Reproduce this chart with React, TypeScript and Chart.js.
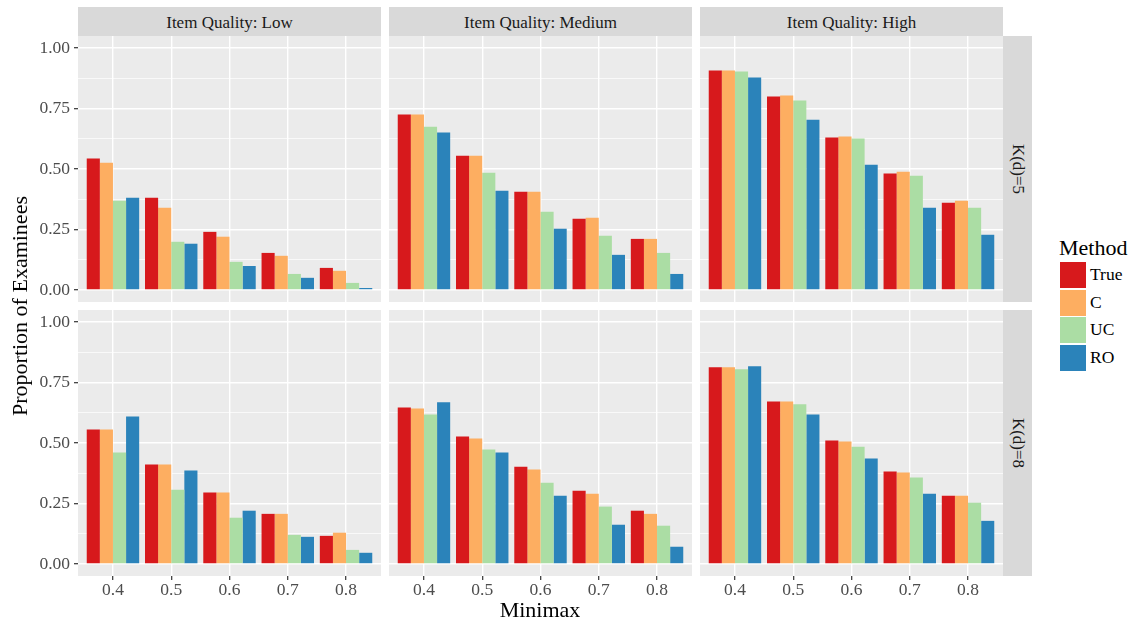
import React, { useEffect, useRef } from "react";
import { Chart, registerables } from "chart.js";

Chart.register(...registerables);
Chart.defaults.font.family = "'Liberation Serif', 'Times New Roman', serif";

// Categories and series
const minimaxLabels = ["0.4", "0.5", "0.6", "0.7", "0.8"];
const methods = ["True", "C", "UC", "RO"];
const methodColors = ["#D7191C", "#FDAE61", "#ABDDA4", "#2B83BA"];
const qualityLevels = ["Item Quality: Low", "Item Quality: Medium", "Item Quality: High"];
const kLevels = ["K(d)=5", "K(d)=8"];
const yMajorTicks = [0, 0.25, 0.5, 0.75, 1];
const yMinorTicks = [0.125, 0.375, 0.625, 0.875];

// Proportion of examinees, one row per method (True, C, UC, RO), columns = minimax
const k5Low = [
  [0.543, 0.381, 0.24, 0.153, 0.091],
  [0.526, 0.34, 0.22, 0.141, 0.079],
  [0.369, 0.199, 0.116, 0.066, 0.029],
  [0.381, 0.191, 0.099, 0.05, 0.008],
];
const k5Medium = [
  [0.725, 0.555, 0.406, 0.294, 0.211],
  [0.725, 0.555, 0.406, 0.298, 0.211],
  [0.675, 0.485, 0.323, 0.224, 0.153],
  [0.651, 0.41, 0.253, 0.145, 0.066],
];
const k5High = [
  [0.907, 0.8, 0.63, 0.481, 0.36],
  [0.907, 0.804, 0.634, 0.489, 0.369],
  [0.903, 0.783, 0.626, 0.472, 0.34],
  [0.878, 0.704, 0.518, 0.34, 0.228],
];
const k8Low = [
  [0.556, 0.411, 0.295, 0.207, 0.116],
  [0.556, 0.411, 0.295, 0.207, 0.129],
  [0.461, 0.307, 0.191, 0.12, 0.058],
  [0.61, 0.386, 0.22, 0.112, 0.046],
];
const k8Medium = [
  [0.647, 0.527, 0.402, 0.303, 0.22],
  [0.643, 0.519, 0.39, 0.29, 0.207],
  [0.618, 0.473, 0.336, 0.237, 0.158],
  [0.668, 0.461, 0.282, 0.162, 0.071],
];
const k8High = [
  [0.813, 0.672, 0.51, 0.382, 0.282],
  [0.813, 0.672, 0.506, 0.378, 0.282],
  [0.805, 0.66, 0.485, 0.357, 0.253],
  [0.817, 0.618, 0.436, 0.29, 0.178],
];
const panelRows = [
  [k5Low, k5Medium, k5High],
  [k8Low, k8Medium, k8High],
];

// Facet geometry
const PANEL_W = 303;
const PANEL_H = 266;
const colLeft = [78, 389, 700];
const rowTop = [36, 310];
const Y_AXIS_W = 78;
const X_AXIS_H = 30;
const STRIP = 29;

const TEXT_GREY = "#4D4D4D";
const isMajor = (v: number) => Math.abs(v * 4 - Math.round(v * 4)) < 1e-9;

const panelBackground = {
  id: "panelBackground",
  beforeDraw(chart: any) {
    const { ctx, chartArea } = chart;
    ctx.save();
    ctx.fillStyle = "#EBEBEB";
    ctx.fillRect(chartArea.left, chartArea.top, chartArea.right - chartArea.left, chartArea.bottom - chartArea.top);
    ctx.restore();
  },
};

function Panel({ values, left, top, showY, showX }: { values: number[][]; left: number; top: number; showY: boolean; showX: boolean }) {
  const ref = useRef<HTMLCanvasElement>(null);
  const yW = showY ? Y_AXIS_W : 0;
  const xH = showX ? X_AXIS_H : 0;
  const width = PANEL_W + yW;
  const height = PANEL_H + xH;

  useEffect(() => {
    if (!ref.current) return;
    const chart = new Chart(ref.current, {
      type: "bar",
      data: {
        datasets: methods.map((m, i) => ({
          label: m,
          data: values[i].map((v, j) => ({ x: j + 1, y: v })),
          backgroundColor: methodColors[i],
          borderWidth: 0,
          categoryPercentage: 0.9,
          barPercentage: 1,
        })),
      },
      options: {
        animation: false,
        responsive: false,
        events: [],
        layout: { padding: 0, autoPadding: false },
        plugins: { legend: { display: false }, tooltip: { enabled: false } },
        scales: {
          x: {
            type: "linear",
            min: 0.4,
            max: 5.6,
            offset: false,
            border: { display: false },
            grid: {
              offset: false,
              color: "#FFFFFF",
              lineWidth: 1.4,
              drawTicks: showX,
              tickLength: 4,
              tickColor: "#333333",
              tickWidth: 1.2,
            },
            ticks: {
              display: showX,
              autoSkip: false,
              maxRotation: 0,
              padding: 1,
              color: TEXT_GREY,
              font: { size: 17.5, lineHeight: 1.1 },
              callback: (v: any) => minimaxLabels[Math.round(v) - 1] ?? "",
            },
            afterBuildTicks: (s: any) => {
              s.ticks = minimaxLabels.map((_, i) => ({ value: i + 1 }));
            },
            afterFit: (s: any) => {
              s.height = xH;
              s.paddingLeft = 0;
              s.paddingRight = 0;
            },
          },
          y: {
            type: "linear",
            min: -0.05,
            max: 1.05,
            border: { display: false },
            grid: {
              color: "#FFFFFF",
              lineWidth: (c: any) => (isMajor(c.tick.value) ? 1.4 : 0.7),
              drawTicks: showY,
              tickLength: 4,
              tickColor: (c: any) => (isMajor(c.tick.value) ? "#333333" : "rgba(0,0,0,0)"),
              tickWidth: 1.2,
            },
            ticks: {
              display: showY,
              autoSkip: false,
              padding: 4,
              color: TEXT_GREY,
              font: { size: 17.5 },
              callback: (v: any) => (isMajor(v) ? Number(v).toFixed(2) : ""),
            },
            afterBuildTicks: (s: any) => {
              s.ticks = [...yMajorTicks, ...yMinorTicks].sort((a, b) => a - b).map((v) => ({ value: v }));
            },
            afterFit: (s: any) => {
              s.width = yW;
              s.paddingTop = 0;
              s.paddingBottom = 0;
            },
          },
        },
      } as any,
      plugins: [panelBackground],
    });
    return () => chart.destroy();
  }, []);

  return (
    <canvas
      ref={ref}
      width={width}
      height={height}
      style={{ position: "absolute", left: left - yW, top, width, height, display: "block" }}
    />
  );
}

const centered: React.CSSProperties = {
  position: "absolute",
  transform: "translate(-50%, -50%)",
  lineHeight: 1,
  whiteSpace: "nowrap",
};

export default function App() {
  return (
    <div
      style={{
        position: "absolute",
        left: 0,
        top: 0,
        width: 1133,
        height: 623,
        background: "#FFFFFF",
        overflow: "hidden",
        fontFamily: "'Liberation Serif', 'Times New Roman', serif",
      }}
    >
      {panelRows.map((row, r) =>
        row.map((values, c) => (
          <Panel key={`${r}-${c}`} values={values} left={colLeft[c]} top={rowTop[r]} showY={c === 0} showX={r === 1} />
        ))
      )}

      {/* column strips */}
      {qualityLevels.map((q, c) => (
        <div
          key={q}
          style={{ position: "absolute", left: colLeft[c], top: rowTop[0] - STRIP, width: PANEL_W, height: STRIP, background: "#D9D9D9" }}
        >
          <span style={{ ...centered, left: PANEL_W / 2, top: STRIP / 2, fontSize: 17, color: "#1A1A1A" }}>{q}</span>
        </div>
      ))}

      {/* row strips */}
      {kLevels.map((k, r) => (
        <div
          key={k}
          style={{ position: "absolute", left: colLeft[2] + PANEL_W, top: rowTop[r], width: STRIP, height: PANEL_H, background: "#D9D9D9" }}
        >
          <span
            style={{
              position: "absolute",
              left: STRIP / 2,
              top: PANEL_H / 2,
              transform: "translate(-50%, -50%) rotate(90deg)",
              lineHeight: 1,
              whiteSpace: "nowrap",
              fontSize: 17,
              color: "#1A1A1A",
            }}
          >
            {k}
          </span>
        </div>
      ))}

      {/* axis titles */}
      <span style={{ ...centered, left: 540, top: 610, fontSize: 22, color: "#000" }}>Minimax</span>
      <span
        style={{
          position: "absolute",
          left: 20,
          top: 306,
          transform: "translate(-50%, -50%) rotate(-90deg)",
          lineHeight: 1,
          whiteSpace: "nowrap",
          fontSize: 22,
          color: "#000",
        }}
      >
        Proportion of Examinees
      </span>

      {/* legend */}
      <span style={{ position: "absolute", left: 1059, top: 237, lineHeight: "22px", fontSize: 22, color: "#000", whiteSpace: "nowrap" }}>
        Method
      </span>
      {methods.map((m, i) => (
        <React.Fragment key={m}>
          <div
            style={{ position: "absolute", left: 1060, top: 262 + i * 27.7, width: 26, height: 26, background: methodColors[i] }}
          />
          <span
            style={{
              position: "absolute",
              left: 1090,
              top: 262 + i * 27.7 + 13,
              transform: "translateY(-50%)",
              lineHeight: 1,
              fontSize: 17.5,
              color: "#000",
              whiteSpace: "nowrap",
            }}
          >
            {m}
          </span>
        </React.Fragment>
      ))}
    </div>
  );
}
